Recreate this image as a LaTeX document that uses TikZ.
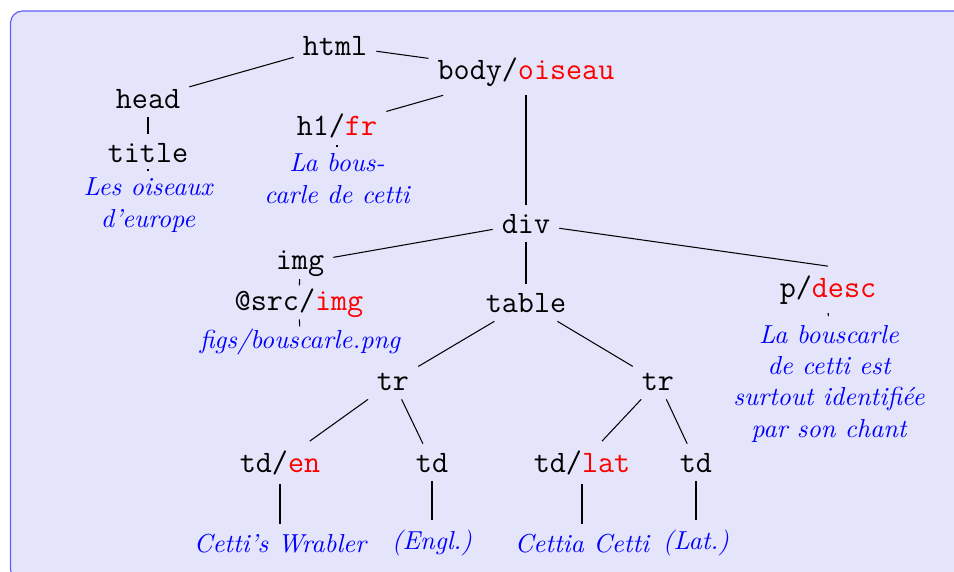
\documentclass[tikz,border=0pt]{standalone}
\definecolor{boxfill}{RGB}{228,228,250}
\definecolor{boxline}{RGB}{95,95,245}
\begin{document}
\begin{tikzpicture}[x=0.3846pt, y=-0.3846pt,
  tag/.style={font=\large\ttfamily, anchor=base},
  txt/.style={font=\itshape, text=blue, align=center, anchor=base},
  link/.style={draw=black, line width=0.4pt}]
\useasboundingbox (0,0) rectangle (954,572);
\clip (0,0) rectangle (954,572);
\draw[draw=boxline, fill=boxfill, line width=0.45pt, rounded corners=4.6pt] (10.5,11) rectangle (1000,581);
% nodes
\node[tag] (html) at (335,55) {html};
\node[tag] (body) at (526,79) {body/\textcolor{red}{oiseau}};
\node[tag] (head) at (148,108) {head};
\node[tag] (title) at (148,162) {title};
\node[txt] (titletxt) at (148,227) {Les oiseaux\\d'europe};
\node[tag] (h1) at (337,135) {h1/\textcolor{red}{fr}};
\node[txt] (h1txt) at (337,203) {La bous-\\carle de cetti};
\node[tag] (div) at (526,233) {div};
\node[tag] (img) at (300,269) {img};
\node[tag] (src) at (299,310) {@src/\textcolor{red}{img}};
\node[txt] (srctxt) at (300,348) {figs/bouscarle.png};
\node[tag] (table) at (526,312) {table};
\node[tag] (p) at (828,297) {p/\textcolor{red}{desc}};
\node[txt] (ptxt) at (829,437) {La bouscarle\\de cetti est\\surtout identifiée\\par son chant};
\node[tag] (trl) at (393,390) {tr};
\node[tag] (trr) at (658,390) {tr};
\node[tag] (tden) at (280,472) {td/\textcolor{red}{en}};
\node[tag] (tdl) at (432,472) {td};
\node[tag] (tdlat) at (582,472) {td/\textcolor{red}{lat}};
\node[tag] (tdr) at (696,472) {td};
\node[txt] (cetti) at (280,552) {Cetti's Wrabler};
\node[txt] (engl) at (432,549) {(Engl.)};
\node[txt] (cettia) at (582,552) {Cettia Cetti};
\node[txt] (lat) at (696,549) {(Lat.)};
% connectors
\draw[link] (html) -- (head);
\draw[link] (html) -- (body);
\draw[link] (body) -- (h1);
\draw[link] (body) -- (div);
\draw[link] (head) -- (title);
\draw[link] (title) -- (titletxt);
\draw[link] (h1) -- (h1txt);
\draw[link] (div) -- (img);
\draw[link] (div) -- (table);
\draw[link] (div) -- (p.north);
\draw[link] (img) -- (src);
\draw[link] (src) -- (srctxt);
\draw[link] (p) -- (ptxt);
\draw[link] (table) -- (trl);
\draw[link] (table) -- (trr);
\draw[link] (trl) -- (tden);
\draw[link] (trl) -- (tdl);
\draw[link] (trr) -- (tdlat);
\draw[link] (trr) -- (tdr);
\draw[link] (tden) -- (cetti);
\draw[link] (tdl) -- (engl);
\draw[link] (tdlat) -- (cettia);
\draw[link] (tdr) -- (lat);
\end{tikzpicture}
\end{document}
